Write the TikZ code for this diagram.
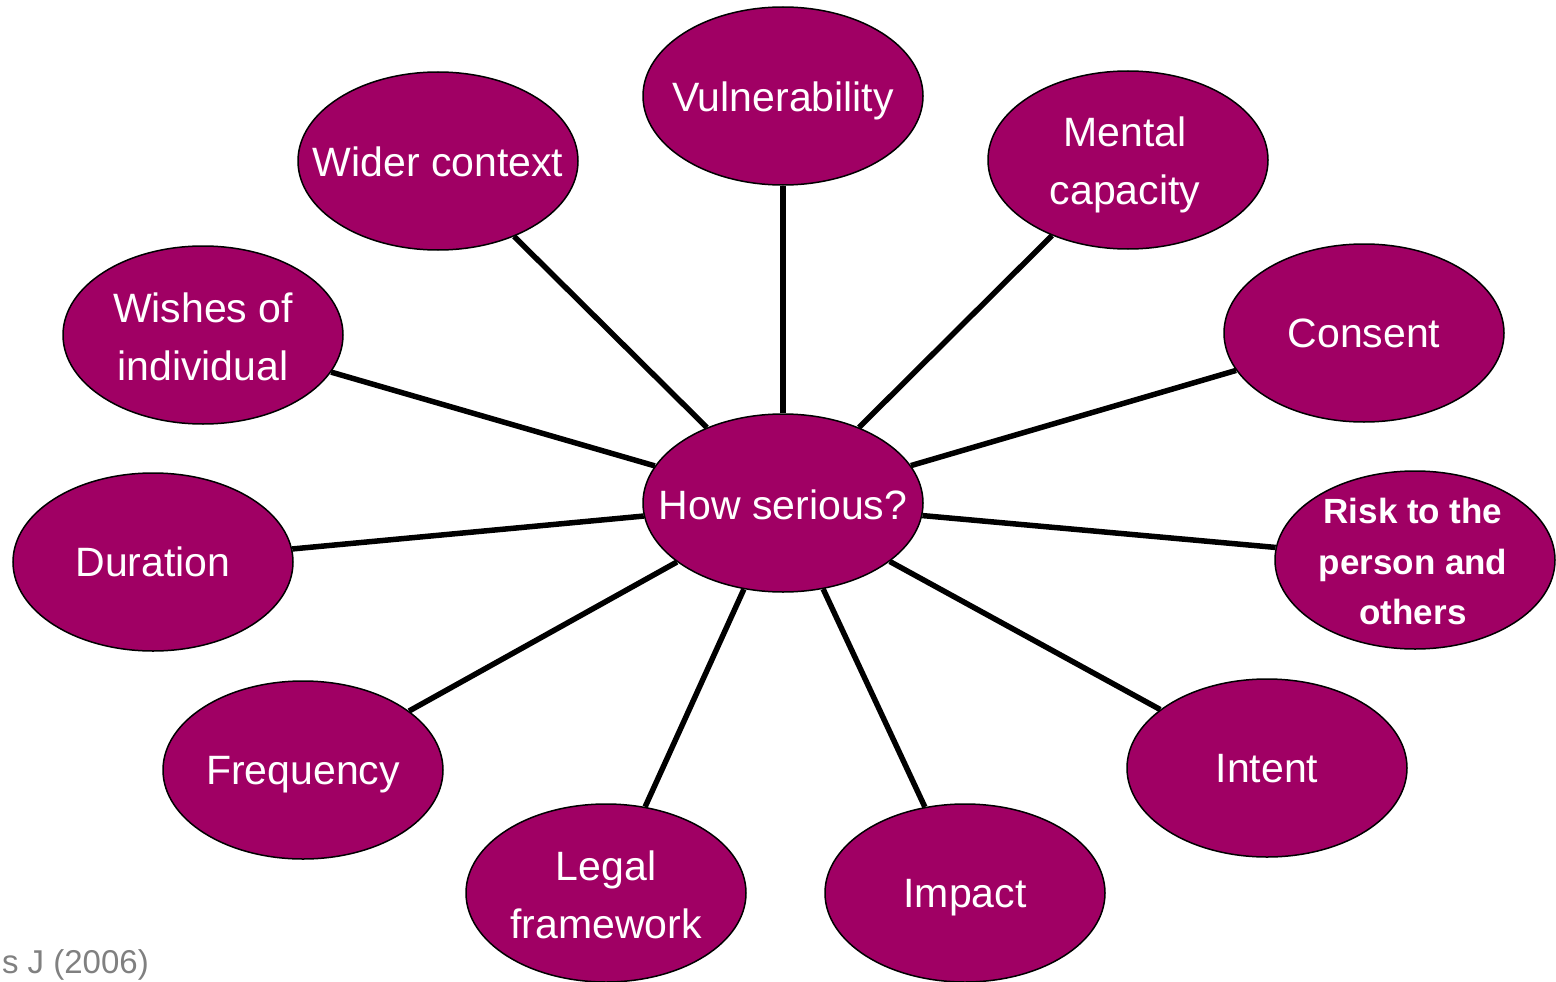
\documentclass[tikz,border=0pt]{standalone}
\usepackage{fontspec}
\setmainfont{Liberation Sans}
\usetikzlibrary{shapes.geometric}
\definecolor{plum}{RGB}{160,0,100}
\definecolor{capgray}{RGB}{128,128,128}
\tikzset{
  bubble/.style={ellipse, draw=black, line width=1.5pt, fill=plum,
    minimum width=280pt, minimum height=178pt, inner sep=0pt},
  btext/.style={text=white, align=center, inner sep=0pt,
    font=\fontsize{41}{58}\selectfont},
  rtext/.style={btext, font=\fontsize{35}{50.5}\selectfont\bfseries},
  spoke/.style={line width=5.5pt, black}
}
\begin{document}
\begin{tikzpicture}[x=1pt,y=-1pt]
\useasboundingbox (0,0) rectangle (1556,982);
\node[bubble] (c) at (783,503) {};
\node[bubble] (vul) at (783,96) {};
\node[bubble] (wid) at (438,161) {};
\node[bubble] (men) at (1128,160) {};
\node[bubble] (wis) at (203,335) {};
\node[bubble] (con) at (1364,333) {};
\node[bubble] (dur) at (153,562) {};
\node[bubble] (ris) at (1415,560) {};
\node[bubble] (fre) at (303,770) {};
\node[bubble] (int) at (1267,768) {};
\node[bubble] (leg) at (606,893) {};
\node[bubble] (imp) at (965,893) {};
\foreach \n in {vul,wid,men,wis,con,dur,ris,fre,int,leg,imp}
  \draw[spoke] (c) -- (\n);
\node[btext] (tc) at ([yshift=-2pt]c.center) {How serious?};
\node[btext] (tvul) at ([yshift=-5pt]vul.center) {Vulnerability};
\node[btext] (twid) at ([yshift=-1pt]wid.center) {Wider context};
\node[btext] (tmen) at ([yshift=-5pt,xshift=-3pt]men.center) {Mental\\capacity};
\node[btext] (twis) at ([yshift=-1.5pt]wis.center) {Wishes of\\individual};
\node[btext] (tcon) at ([yshift=0pt]con.center) {Consent};
\node[btext] (tdur) at ([yshift=0pt]dur.center) {Duration};
\node[rtext] (tris) at ([yshift=-1.5pt,xshift=-2pt]ris.center) {Risk to the\\person and\\others};
\node[btext] (tfre) at ([yshift=-5pt]fre.center) {Frequency};
\node[btext] (tint) at ([yshift=-1pt]int.center) {Intent};
\node[btext] (tleg) at ([yshift=-1.5pt]leg.center) {Legal\\framework};
\node[btext] (timp) at ([yshift=-5pt]imp.center) {Impact};
\node[anchor=east, text=capgray, font=\fontsize{33}{38}\selectfont, inner sep=0pt] (cap) at (149,965) {s J (2006)};
\end{tikzpicture}
\end{document}
